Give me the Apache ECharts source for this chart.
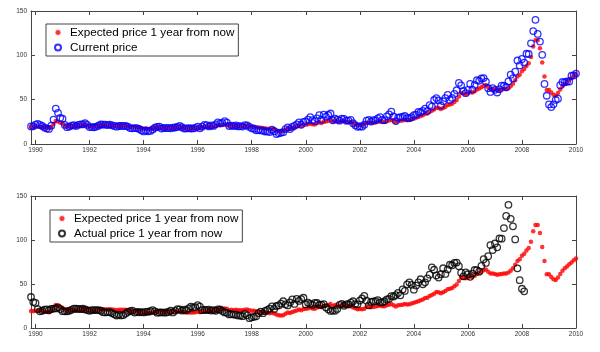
<!DOCTYPE html>
<html>
<head>
<meta charset="utf-8">
<script src="https://cdn.jsdelivr.net/npm/echarts@6/dist/echarts.min.js"></script>
<style>
  html, body { margin: 0; padding: 0; background: #fff; }
  #main { width: 600px; height: 352px; }
</style>
</head>
<body>
<div id="main"></div>
<script>
// monthly values, first point = end of Oct 1989
const startYear = 1989;
const startMonth = 10;

const yearTicks = [1990, 1992, 1994, 1996, 1998, 2000, 2002, 2004, 2006, 2008, 2010];
const priceTicks = [0, 50, 100, 150];

// current (spot) price, Oct 1989 .. Dec 2009
const currentPrice = [
  19.8, 19.9, 21.8,
  22.7, 21.5, 20.3, 18.5, 17.5, 17.0, 20.7, 27.5, 40.0, 35.2, 29.5, 28.5,
  21.5, 19.0, 19.6, 20.8, 21.2, 20.3, 21.6, 22.1, 22.2, 23.4, 21.5, 19.1,
  19.0, 18.9, 19.6, 20.6, 22.0, 21.9, 21.8, 21.4, 21.9, 21.1, 20.4, 19.5,
  20.3, 20.4, 20.4, 20.4, 19.6, 18.0, 17.7, 18.0, 18.0, 16.9, 15.5, 14.2,
  15.2, 14.3, 14.7, 16.4, 18.3, 19.2, 19.6, 17.5, 18.2, 17.9, 18.1, 17.7,
  18.4, 18.6, 19.2, 20.4, 18.9, 17.4, 17.6, 17.8, 17.5, 17.6, 18.2, 19.6,
  17.7, 19.5, 21.5, 21.2, 19.8, 20.9, 20.4, 22.2, 24.4, 23.3, 23.8, 25.9,
  24.2, 20.3, 20.8, 20.2, 20.9, 19.8, 20.2, 19.6, 21.2, 21.0, 19.3, 17.7,
  17.2, 15.4, 15.7, 15.3, 15.1, 14.1, 14.2, 13.4, 16.1, 14.4, 11.2, 12.1,
  12.7, 13.3, 16.8, 18.7, 16.8, 19.3, 20.5, 22.1, 24.5, 21.7, 25.0, 25.6,
  27.6, 30.4, 26.9, 25.7, 29.0, 32.5, 27.4, 33.1, 30.8, 32.7, 34.4, 26.8,
  28.7, 27.4, 26.3, 28.5, 28.4, 26.3, 26.4, 27.2, 23.4, 21.2, 19.4, 19.8,
  19.5, 21.7, 26.3, 27.3, 25.3, 26.9, 27.0, 28.9, 30.4, 27.2, 26.9, 31.2,
  33.5, 36.6, 31.0, 25.8, 29.6, 30.2, 30.5, 31.6, 29.2, 29.1, 30.4, 32.5,
  33.1, 36.2, 35.8, 37.4, 39.9, 37.1, 43.8, 42.1, 49.6, 51.8, 49.1, 43.5,
  48.2, 51.8, 55.4, 49.7, 51.9, 56.5, 60.6, 68.9, 66.2, 59.8, 57.3, 61.1,
  67.9, 61.4, 66.6, 71.9, 71.3, 73.9, 74.4, 70.3, 62.9, 58.7, 63.1, 61.1,
  58.1, 61.8, 65.9, 65.7, 64.0, 70.7, 78.2, 74.0, 81.6, 94.2, 88.6, 96.0,
  91.7, 101.8, 101.5, 113.5, 127.4, 140.0, 124.1, 115.5, 100.6, 67.8, 54.4, 44.6,
  41.7, 44.8, 49.7, 51.1, 66.3, 69.9, 69.5, 70.6, 70.5, 77.0, 77.3, 79.4
];

// expected price 1 year from now, Oct 1989 .. Dec 2009
const expectedPrice = [
  19.2, 19.0, 19.6,
  19.8, 19.5, 19.3, 18.6, 18.3, 18.0, 19.5, 22.5, 26.0, 25.5, 24.0, 23.0,
  21.0, 19.5, 19.6, 20.2, 20.5, 20.0, 20.8, 21.2, 21.3, 22.0, 21.0, 19.6,
  19.5, 19.6, 19.9, 20.4, 21.2, 21.3, 21.2, 21.0, 21.4, 21.0, 20.6, 20.2,
  20.6, 20.7, 20.8, 20.7, 20.2, 19.2, 18.9, 19.1, 19.0, 18.5, 17.8, 17.2,
  17.5, 16.8, 16.9, 17.6, 18.3, 18.6, 18.8, 17.9, 18.1, 18.0, 18.2, 18.0,
  18.4, 18.5, 18.6, 19.1, 18.6, 17.8, 17.6, 17.7, 17.6, 17.7, 17.9, 18.6,
  17.8, 18.6, 19.4, 19.8, 19.3, 19.6, 19.4, 20.3, 21.3, 21.2, 21.5, 22.2,
  21.8, 20.3, 20.6, 20.3, 20.6, 20.1, 20.3, 20.1, 20.8, 20.9, 20.1, 19.5,
  19.5, 18.8, 18.5, 18.3, 18.0, 17.5, 17.3, 16.8, 17.3, 16.6, 15.3, 14.6,
  14.2, 14.4, 16.3, 17.5, 17.0, 18.3, 19.0, 20.0, 21.0, 20.2, 21.6, 21.8,
  22.3, 23.2, 22.2, 22.0, 23.4, 24.5, 23.6, 25.0, 25.3, 26.2, 27.2, 25.0,
  26.0, 25.8, 25.0, 25.9, 25.8, 24.9, 24.6, 24.8, 23.2, 22.4, 21.3, 21.6,
  21.4, 22.0, 24.0, 24.3, 23.7, 24.0, 24.3, 25.0, 25.6, 24.8, 24.7, 25.8,
  26.5, 27.3, 25.9, 24.5, 25.8, 26.2, 26.5, 27.3, 26.7, 27.0, 27.8, 28.6,
  29.5, 30.5, 31.5, 32.5, 34.0, 34.5, 36.5, 37.5, 39.0, 41.0, 40.5, 39.5,
  40.5, 42.0, 44.0, 44.5, 45.5, 47.5, 49.5, 53.5, 57.5, 57.0, 56.5, 57.0,
  58.5, 58.0, 59.5, 61.5, 62.5, 64.0, 65.5, 66.5, 64.0, 62.0, 62.0, 61.5,
  60.5, 61.0, 61.5, 62.0, 62.0, 63.0, 65.0, 68.0, 72.0, 76.0, 78.0, 82.0,
  84.5, 88.0, 91.0, 98.0, 110.0, 117.0, 117.0, 108.0, 92.0, 76.0, 61.0, 61.0,
  58.0, 55.5, 54.5, 57.5, 61.5, 65.0, 68.0, 70.0, 72.5, 74.5, 77.0, 79.0
];

// actual price 1 year later, Oct 1989 .. Jan 2008
const actualNextYear = [
  35.2, 29.5, 28.5,
  21.5, 19.0, 19.6, 20.8, 21.2, 20.3, 21.6, 22.1, 22.2, 23.4, 21.5, 19.1,
  19.0, 18.9, 19.6, 20.6, 22.0, 21.9, 21.8, 21.4, 21.9, 21.1, 20.4, 19.5,
  20.3, 20.4, 20.4, 20.4, 19.6, 18.0, 17.7, 18.0, 18.0, 16.9, 15.5, 14.2,
  15.2, 14.3, 14.7, 16.4, 18.3, 19.2, 19.6, 17.5, 18.2, 17.9, 18.1, 17.7,
  18.4, 18.6, 19.2, 20.4, 18.9, 17.4, 17.6, 17.8, 17.5, 17.6, 18.2, 19.6,
  17.7, 19.5, 21.5, 21.2, 19.8, 20.9, 20.4, 22.2, 24.4, 23.3, 23.8, 25.9,
  24.2, 20.3, 20.8, 20.2, 20.9, 19.8, 20.2, 19.6, 21.2, 21.0, 19.3, 17.7,
  17.2, 15.4, 15.7, 15.3, 15.1, 14.1, 14.2, 13.4, 16.1, 14.4, 11.2, 12.1,
  12.7, 13.3, 16.8, 18.7, 16.8, 19.3, 20.5, 22.1, 24.5, 21.7, 25.0, 25.6,
  27.6, 30.4, 26.9, 25.7, 29.0, 32.5, 27.4, 33.1, 30.8, 32.7, 34.4, 26.8,
  28.7, 27.4, 26.3, 28.5, 28.4, 26.3, 26.4, 27.2, 23.4, 21.2, 19.4, 19.8,
  19.5, 21.7, 26.3, 27.3, 25.3, 26.9, 27.0, 28.9, 30.4, 27.2, 26.9, 31.2,
  33.5, 36.6, 31.0, 25.8, 29.6, 30.2, 30.5, 31.6, 29.2, 29.1, 30.4, 32.5,
  33.1, 36.2, 35.8, 37.4, 39.9, 37.1, 43.8, 42.1, 49.6, 51.8, 49.1, 43.5,
  48.2, 51.8, 55.4, 49.7, 51.9, 56.5, 60.6, 68.9, 66.2, 59.8, 57.3, 61.1,
  67.9, 61.4, 66.6, 71.9, 71.3, 73.9, 74.4, 70.3, 62.9, 58.7, 63.1, 61.1,
  58.1, 61.8, 65.9, 65.7, 64.0, 70.7, 78.2, 74.0, 81.6, 94.2, 88.6, 96.0,
  91.7, 101.8, 101.5, 113.5, 127.4, 140.0, 124.1, 115.5, 100.6, 67.8, 54.4, 44.6,
  41.7
];

const nameExpected = 'Expected price 1 year from now';
const nameCurrent = 'Current price';
const nameActual = 'Actual price 1 year from now';

function toPoints(values) {
  return values.map((v, i) => [startYear + (startMonth + i) / 12, v]);
}

const xMin = startYear + startMonth / 12;
const xMax = 2010;
const frameColor = '#444';
const labelFont = { fontSize: 6.5, color: '#333', fontFamily: 'Liberation Sans, Arial, sans-serif' };

function xAxes(gridIndex) {
  return [
    {
      gridIndex: gridIndex, type: 'value', position: 'bottom', min: xMin, max: xMax,
      axisLine: { onZero: false, lineStyle: { color: frameColor, width: 1 } },
      axisTick: { inside: true, length: 4, customValues: yearTicks, lineStyle: { color: frameColor } },
      axisLabel: Object.assign({ customValues: yearTicks, margin: 3, formatter: v => String(v) }, labelFont),
      splitLine: { show: false }
    },
    {
      gridIndex: gridIndex, type: 'value', position: 'top', min: xMin, max: xMax,
      axisLine: { onZero: false, lineStyle: { color: frameColor, width: 1 } },
      axisTick: { inside: true, length: 4, customValues: yearTicks, lineStyle: { color: frameColor } },
      axisLabel: { show: false },
      splitLine: { show: false }
    }
  ];
}

function yAxes(gridIndex) {
  return [
    {
      gridIndex: gridIndex, type: 'value', position: 'left', min: 0, max: 150,
      axisLine: { show: true, onZero: false, lineStyle: { color: frameColor, width: 1 } },
      axisTick: { show: true, inside: true, length: 4, customValues: priceTicks, lineStyle: { color: frameColor } },
      axisLabel: Object.assign({ customValues: priceTicks, margin: 4 }, labelFont),
      splitLine: { show: false }
    },
    {
      gridIndex: gridIndex, type: 'value', position: 'right', min: 0, max: 150,
      axisLine: { show: true, onZero: false, lineStyle: { color: frameColor, width: 1 } },
      axisTick: { show: true, inside: true, length: 4, customValues: priceTicks, lineStyle: { color: frameColor } },
      axisLabel: { show: false },
      splitLine: { show: false }
    }
  ];
}

function legendBox(left, top, names) {
  return {
    left: left, top: top, orient: 'vertical',
    data: [
      { name: names[0], itemStyle: { borderColor: '#fff', borderWidth: 1 } },
      { name: names[1] }
    ],
    itemWidth: 14, itemHeight: 6, itemGap: 1,
    padding: [1.5, 4, 1.5, 8],
    borderColor: frameColor, borderWidth: 1, borderRadius: 0,
    backgroundColor: '#fff',
    selectedMode: false,
    textStyle: { fontSize: 11.7, lineHeight: 14, color: '#000', fontFamily: 'Liberation Sans, Arial, sans-serif' }
  };
}

const chart = echarts.init(document.getElementById('main'), null, { renderer: 'canvas' });
chart.setOption({
  animation: false,
  backgroundColor: '#fff',
  grid: [
    { left: 31, top: 11, width: 545, height: 133 },
    { left: 31, top: 196, width: 545, height: 132 }
  ],
  xAxis: xAxes(0).concat(xAxes(1)),
  yAxis: yAxes(0).concat(yAxes(1)),
  legend: [
    legendBox(46, 24, [nameExpected, nameCurrent]),
    legendBox(50, 210, [nameExpected, nameActual])
  ],
  series: [
    {
      name: nameExpected, type: 'scatter', xAxisIndex: 0, yAxisIndex: 0,
      symbol: 'circle', symbolSize: 4.5,
      itemStyle: { color: '#ff0000' },
      data: toPoints(expectedPrice)
    },
    {
      name: nameCurrent, type: 'scatter', xAxisIndex: 0, yAxisIndex: 0,
      symbol: 'circle', symbolSize: 6.5,
      itemStyle: { color: 'rgba(0,0,0,0)', borderColor: '#0000ff', borderWidth: 1.3 },
      data: toPoints(currentPrice)
    },
    {
      name: nameExpected, type: 'scatter', xAxisIndex: 2, yAxisIndex: 2,
      symbol: 'circle', symbolSize: 4.5,
      itemStyle: { color: '#ff0000' },
      data: toPoints(expectedPrice)
    },
    {
      name: nameActual, type: 'scatter', xAxisIndex: 2, yAxisIndex: 2,
      symbol: 'circle', symbolSize: 6.5,
      itemStyle: { color: 'rgba(0,0,0,0)', borderColor: '#000000', borderWidth: 1.3 },
      data: toPoints(actualNextYear)
    }
  ]
});
</script>
</body>
</html>
